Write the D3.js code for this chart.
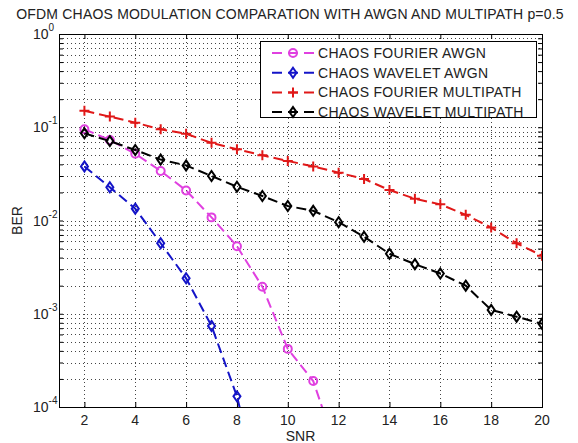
<!DOCTYPE html>
<html>
<head>
<meta charset="utf-8">
<script src="https://cdn.jsdelivr.net/npm/d3@7"></script>
<style>
body { margin: 0; background: #fff; }
text { font-family: "Liberation Sans", Arial, sans-serif; fill: #222; }
</style>
</head>
<body>
<div id="chart"></div>
<script>
// SNR values (x axis)
var snr = [2, 3, 4, 5, 6, 7, 8, 9, 10, 11, 12, 13, 14, 15, 16, 17, 18, 19, 20]

// BER; last points of the AWGN curves fall below the axis and get clipped
var fourierAwgn = [0.095, 0.073, 0.052, 0.034, 0.021, 0.0108, 0.0053, 0.00195, 0.00042, 0.00019, 0.00003]
var waveletAwgn = [0.038, 0.0227, 0.0134, 0.0057, 0.0024, 0.00074, 0.00013, 0.00001]
var fourierMulti = [0.15, 0.13, 0.112, 0.095, 0.085, 0.068, 0.058, 0.050, 0.0435, 0.038, 0.0326, 0.0279, 0.0212, 0.0171, 0.0149, 0.0115, 0.0084, 0.0057, 0.0042]
var waveletMulti = [0.086, 0.071, 0.057, 0.045, 0.039, 0.030, 0.023, 0.0183, 0.0143, 0.0127, 0.0096, 0.0067, 0.0044, 0.0034, 0.0027, 0.0020, 0.0011, 0.00093, 0.00078]

var xTicks = [2, 4, 6, 8, 10, 12, 14, 16, 18, 20]
var yDecades = [0, -1, -2, -3, -4]

var seriesNames = ["CHAOS FOURIER AWGN", "CHAOS WAVELET AWGN", "CHAOS FOURIER  MULTIPATH", "CHAOS WAVELET MULTIPATH"]
var seriesColors = ["#e040e0", "#1414c8", "#e01818", "#000000"]
var seriesMarkers = ["circle", "diamond", "plus", "diamond"]

var W = 578, H = 443
// plot box (window.top is reserved, so use pl/pr/pt/pb)
var pl = 59, pr = 542, pt = 34, pb = 407

var svg = d3.select("#chart").append("svg").attr("width", W).attr("height", H)

var x = d3.scaleLinear().domain([1, 20]).range([pl, pr])
var y = d3.scaleLog().domain([1e-4, 1]).range([pb, pt])

svg.append("rect").attr("x", pl).attr("y", pt).attr("width", pr - pl).attr("height", pb - pt).attr("fill", "#fff")

/* grid: vertical at major x ticks, horizontal at every log tick */
var gridY = []
yDecades.forEach(function(e){
    if (e == 0) return
    d3.range(1, 10).forEach(function(m){ gridY.push(m * Math.pow(10, e)) })
})
var grid = svg.append("g").attr("stroke", "#444").attr("stroke-width", 1).attr("stroke-dasharray", "1,3")
grid.selectAll(".gx").data(xTicks).enter().append("line")
    .attr("x1", function(d){ return Math.round(x(d)) + 0.5 }).attr("x2", function(d){ return Math.round(x(d)) + 0.5 })
    .attr("y1", pt).attr("y2", pb)
grid.selectAll(".gy").data(gridY).enter().append("line")
    .attr("x1", pl).attr("x2", pr)
    .attr("y1", function(d){ return Math.round(y(d)) + 0.5 }).attr("y2", function(d){ return Math.round(y(d)) + 0.5 })

/* axes, ticks drawn inward like matlab */
var xAxisB = d3.axisBottom(x).tickValues(xTicks).tickSize(-5).tickFormat("")
var xAxisT = d3.axisTop(x).tickValues(xTicks).tickSize(-5).tickFormat("")
svg.append("g").attr("transform", "translate(0," + pb + ")").call(xAxisB)
svg.append("g").attr("transform", "translate(0," + pt + ")").call(xAxisT)

var yAxisL = d3.axisLeft(y).tickValues(gridY.concat([1])).tickSize(-4).tickFormat("")
var yAxisR = d3.axisRight(y).tickValues(gridY.concat([1])).tickSize(-4).tickFormat("")
svg.append("g").attr("transform", "translate(" + pl + ",0)").call(yAxisL)
svg.append("g").attr("transform", "translate(" + pr + ",0)").call(yAxisR)
svg.selectAll(".domain").attr("stroke", "#000")
svg.selectAll(".tick line").attr("stroke", "#000")

svg.append("rect").attr("x", pl + 0.5).attr("y", pt + 0.5).attr("width", pr - pl).attr("height", pb - pt)
    .attr("fill", "none").attr("stroke", "#000")

/* tick labels */
svg.selectAll(".xl").data(xTicks).enter().append("text")
    .attr("x", function(d){ return x(d) }).attr("y", pb + 18)
    .attr("text-anchor", "middle").attr("font-size", 14).text(function(d){ return d })

var yl = svg.selectAll(".yl").data(yDecades).enter().append("text")
    .attr("x", 33).attr("y", function(d){ return y(Math.pow(10, d)) + 5 })
    .attr("font-size", 14)
yl.append("tspan").text("10")
yl.append("tspan").attr("dy", -8).attr("font-size", 10).text(function(d){ return d })

svg.append("text").attr("x", (pl + pr) / 2).attr("y", H - 2).attr("text-anchor", "middle")
    .attr("font-size", 14).text("SNR")
svg.append("text").attr("transform", "translate(22," + ((pt + pb) / 2) + ") rotate(-90)")
    .attr("text-anchor", "middle").attr("font-size", 14).text("BER")
svg.append("text").attr("x", 290).attr("y", 19).attr("text-anchor", "middle")
    .attr("font-size", 14).attr("letter-spacing", 0.2)
    .text("OFDM CHAOS MODULATION COMPARATION WITH AWGN AND MULTIPATH p=0.5")

/* series */
svg.append("clipPath").attr("id", "clip").append("rect")
    .attr("x", pl).attr("y", pt).attr("width", pr - pl).attr("height", pb - pt)

function markerPath(kind){
    if (kind == "circle") return d3.symbol().type(d3.symbolCircle).size(50)()
    if (kind == "diamond") return "M0,-5L3.5,0L0,5L-3.5,0Z"
    return "M-5,0L5,0M0,-5L0,5"
}

var allSeries = [fourierAwgn, waveletAwgn, fourierMulti, waveletMulti]
var line = d3.line().x(function(d){ return x(d[0]) }).y(function(d){ return y(d[1]) })
var plot = svg.append("g").attr("clip-path", "url(#clip)")

allSeries.forEach(function(vals, i){
    var pts = vals.map(function(v, j){ return [snr[j], v] })
    plot.append("path").datum(pts).attr("d", line)
        .attr("fill", "none").attr("stroke", seriesColors[i]).attr("stroke-width", 2)
        .attr("stroke-dasharray", "10,5")
    plot.selectAll(".m" + i).data(pts).enter().append("path")
        .attr("transform", function(d){ return "translate(" + x(d[0]) + "," + y(d[1]) + ")" })
        .attr("d", markerPath(seriesMarkers[i]))
        .attr("fill", "none").attr("stroke", seriesColors[i]).attr("stroke-width", 2)
})

/* legend */
var leg = svg.append("g")
leg.append("rect").attr("x", 260.5).attr("y", 41.5).attr("width", 276).attr("height", 76)
    .attr("fill", "#fff").attr("stroke", "#000")
seriesNames.forEach(function(name, i){
    var ly = 53 + i * 19.7
    leg.append("line").attr("x1", 272).attr("x2", 315).attr("y1", ly).attr("y2", ly)
        .attr("stroke", seriesColors[i]).attr("stroke-width", 2).attr("stroke-dasharray", "10,6")
    leg.append("path").attr("transform", "translate(293," + ly + ")").attr("d", markerPath(seriesMarkers[i]))
        .attr("fill", "none").attr("stroke", seriesColors[i]).attr("stroke-width", 2)
    leg.append("text").attr("x", 318).attr("y", ly + 5).attr("font-size", 14)
        .attr("letter-spacing", 0.3).text(name)
})
</script>
</body>
</html>
